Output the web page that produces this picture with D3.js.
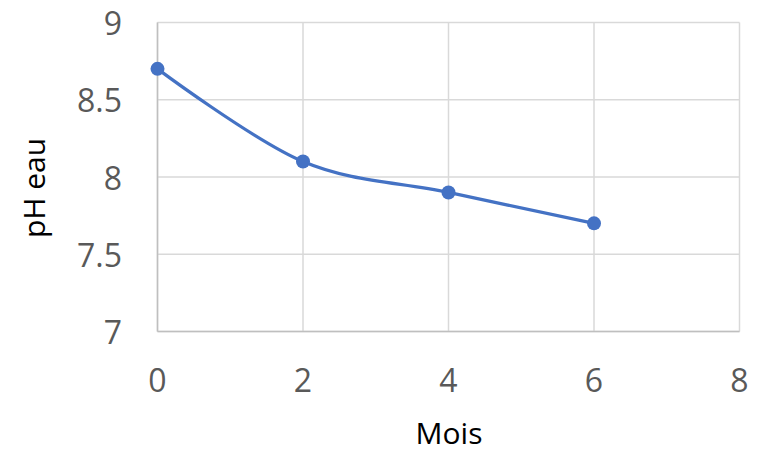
<!DOCTYPE html>
<html>
<head>
<meta charset="utf-8">
<script src="https://cdn.jsdelivr.net/npm/d3@7"></script>
<style>
  html, body { margin: 0; padding: 0; background: #fff; }
  svg { display: block; }
  text { font-family: "Open Sans", "Noto Sans", sans-serif; fill: #595959; }
</style>
</head>
<body>
<svg id="chart" width="761" height="453"></svg>
<script>
// pH de l'eau mesuré au fil des mois
const months = [0, 2, 4, 6];
const phValues = [8.7, 8.1, 7.9, 7.7];
const xTicks = [0, 2, 4, 6, 8];
const yTicks = [7, 7.5, 8, 8.5, 9];
const xTitle = "Mois";
const yTitle = "pH eau";

const svg = d3.select("#chart");
const plotLeft = 157.5, plotRight = 739.5, plotTop = 22.5, plotBottom = 331.5;

const x = d3.scaleLinear().domain([0, 8]).range([plotLeft, plotRight]);
const y = d3.scaleLinear().domain([7, 9]).range([plotBottom, plotTop]);

// Gridlines
svg.append("g").selectAll("line").data(yTicks).join("line")
  .attr("x1", plotLeft).attr("x2", plotRight)
  .attr("y1", d => y(d)).attr("y2", d => y(d))
  .attr("stroke", "#d9d9d9").attr("stroke-width", 1.5);
svg.append("g").selectAll("line").data(xTicks).join("line")
  .attr("x1", d => x(d)).attr("x2", d => x(d))
  .attr("y1", plotTop).attr("y2", plotBottom)
  .attr("stroke", "#d9d9d9").attr("stroke-width", 1.5);

// Axis lines
svg.append("line").attr("x1", plotLeft).attr("x2", plotRight)
  .attr("y1", plotBottom).attr("y2", plotBottom)
  .attr("stroke", "#bfbfbf").attr("stroke-width", 1.5);
svg.append("line").attr("x1", plotLeft).attr("x2", plotLeft)
  .attr("y1", plotTop).attr("y2", plotBottom)
  .attr("stroke", "#bfbfbf").attr("stroke-width", 1.5);

// Tick labels
svg.append("g").selectAll("text").data(yTicks).join("text")
  .attr("x", 122).attr("y", d => y(d))
  .attr("text-anchor", "end").attr("dominant-baseline", "central")
  .attr("font-size", 32)
  .text(d => d);
svg.append("g").selectAll("text").data(xTicks).join("text")
  .attr("x", d => x(d)).attr("y", 392)
  .attr("text-anchor", "middle")
  .attr("font-size", 32)
  .text(d => d);

// Axis titles
svg.append("text").attr("x", 449).attr("y", 444)
  .attr("text-anchor", "middle").attr("font-size", 30)
  .style("fill", "#000").text(xTitle);
svg.append("text")
  .attr("transform", "translate(33, 188) rotate(-90)")
  .attr("text-anchor", "middle").attr("dominant-baseline", "central")
  .attr("font-size", 30).style("fill", "#000").text(yTitle);

// Smoothed series line
const pts = months.map((m, i) => [m, phValues[i]]);
svg.append("path")
  .datum(pts)
  .attr("fill", "none")
  .attr("stroke", "#4472C4")
  .attr("stroke-width", 3.25)
  .attr("d", d3.line().x(d => x(d[0])).y(d => y(d[1])).curve(d3.curveCardinal.tension(0)));

// Markers
svg.append("g").selectAll("circle").data(pts).join("circle")
  .attr("cx", d => x(d[0])).attr("cy", d => y(d[1]))
  .attr("r", 7).attr("fill", "#4472C4");
</script>
</body>
</html>
